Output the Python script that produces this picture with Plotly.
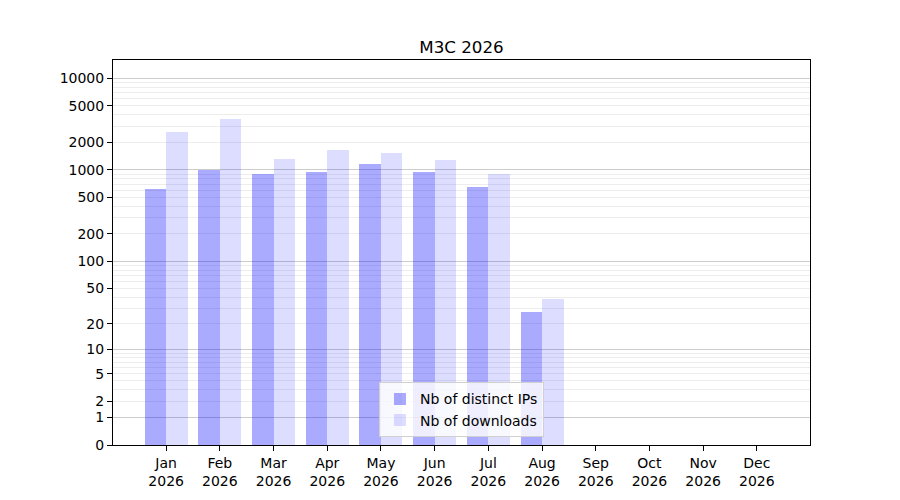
import plotly.graph_objects as go

# monthly stats (Sep-Dec have no data yet)
months = ["Jan", "Feb", "Mar", "Apr", "May", "Jun",
          "Jul", "Aug", "Sep", "Oct", "Nov", "Dec"]
year = 2026
distinct_ips = [620, 1005, 905, 950, 1160, 950, 650, 27, 0, 0, 0, 0]
downloads = [2600, 3600, 1320, 1650, 1530, 1290, 905, 38, 0, 0, 0, 0]

y_ticks = [0, 1, 2, 5, 10, 20, 50, 100, 200, 500, 1000, 2000, 5000, 10000]
decades = [1, 10, 100, 1000, 10000]

labels = [f"{m}<br>{year}" for m in months]

# axis is log10(1 + n): shift everything by one and relabel
shift = lambda vals: [v + 1 for v in vals]
minor_vals = [m * d for d in decades[:-1] for m in range(2, 10)]

FONT = "DejaVu Sans"

fig = go.Figure()

fig.add_trace(go.Bar(
    x=labels,
    y=shift(distinct_ips),
    customdata=distinct_ips,
    width=0.4,
    offset=-0.4,
    marker=dict(color="rgba(0,0,255,0.333)", line=dict(width=0)),
    name="Nb of distinct IPs",
    hovertemplate="%{x}<br>IPs: %{customdata}<extra></extra>",
))

fig.add_trace(go.Bar(
    x=labels,
    y=shift(downloads),
    customdata=downloads,
    width=0.4,
    offset=0,
    marker=dict(color="rgba(0,0,255,0.133)", line=dict(width=0)),
    name="Nb of downloads",
    hovertemplate="%{x}<br>Downloads: %{customdata}<extra></extra>",
))

# empty trace so the overlay axis (decade grid) gets drawn
fig.add_trace(go.Scatter(x=[], y=[], yaxis="y2", showlegend=False,
                         hoverinfo="skip"))

yrange = [0, 4.2]

fig.update_layout(
    width=900,
    height=500,
    # page body adds ~8px offset, so margins are compensated
    margin=dict(l=105, r=98, t=52, b=63),
    paper_bgcolor="white",
    plot_bgcolor="white",
    font=dict(family=FONT, size=14, color="black"),
    barmode="overlay",
    bargap=0,
    title=dict(
        text="M3C 2026",
        x=0.5, xref="paper", xanchor="center",
        y=1, yref="paper", yanchor="bottom",
        pad=dict(b=7),
        font=dict(family=FONT, size=16.7, color="black"),
    ),
    xaxis=dict(
        range=[-0.99, 11.99],
        showgrid=False,
        showline=True, mirror=True, linecolor="black", linewidth=1,
        ticks="outside", ticklen=5, tickwidth=1, tickcolor="black",
        tickfont=dict(size=14),
        zeroline=False,
    ),
    yaxis=dict(
        type="log",
        range=yrange,
        tickvals=shift(y_ticks),
        ticktext=[str(t) for t in y_ticks],
        showgrid=False,
        minor=dict(tickvals=shift(minor_vals), showgrid=True,
                   gridcolor="rgba(0,0,0,0.07)", gridwidth=1, ticklen=0),
        showline=True, mirror=True, linecolor="black", linewidth=1,
        ticks="outside", ticklen=5, tickwidth=1, tickcolor="black",
        tickfont=dict(size=14),
        zeroline=False,
    ),
    yaxis2=dict(
        type="log",
        range=yrange,
        overlaying="y",
        tickvals=shift(decades),
        showticklabels=False,
        ticks="",
        showgrid=True,
        gridcolor="rgba(0,0,0,0.2)",
        gridwidth=1,
        showline=False,
        zeroline=False,
    ),
    legend=dict(
        x=0.5, xanchor="center",
        y=0.02, yanchor="bottom",
        bgcolor="rgba(255,255,255,0.8)",
        bordercolor="#d0d0d0",
        borderwidth=1,
        font=dict(family=FONT, size=14),
        tracegroupgap=0,
        itemsizing="constant",
    ),
)

fig.write_html("out.html")
